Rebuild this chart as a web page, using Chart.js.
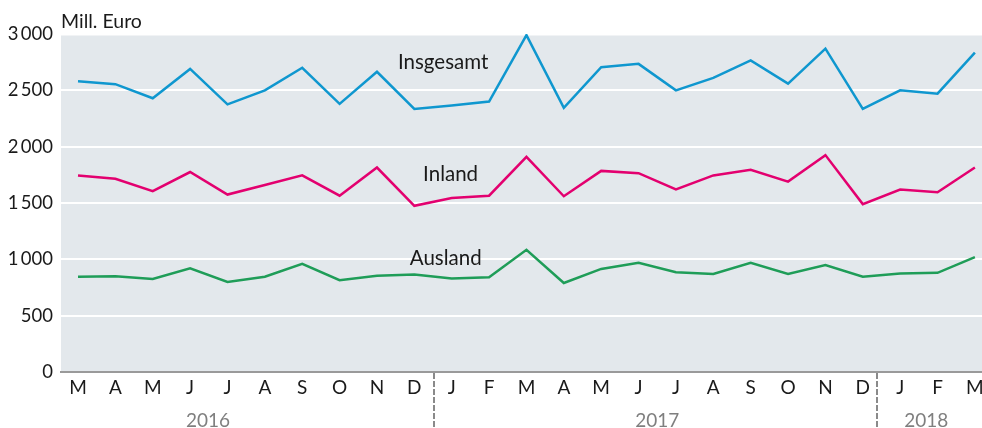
<!DOCTYPE html>
<html>
<head>
<meta charset="utf-8">
<script src="https://cdn.jsdelivr.net/npm/chart.js@4.4.1/dist/chart.umd.min.js"></script>
<style>
  html, body { margin: 0; padding: 0; background: #fff; }
  #wrap { width: 982px; height: 428px; position: relative; }
</style>
</head>
<body>
<div id="wrap"><canvas id="chart"></canvas></div>
<script>
// März 2016 bis März 2018
const months = ['M','A','M','J','J','A','S','O','N','D','J','F','M','A','M','J','J','A','S','O','N','D','J','F','M'];
const insgesamt = [2580, 2555, 2430, 2690, 2375, 2500, 2700, 2380, 2665, 2335, 2365, 2400, 2990, 2345, 2705, 2735, 2500, 2610, 2765, 2560, 2870, 2335, 2500, 2470, 2835];
const inland    = [1745, 1715, 1605, 1775, 1575, 1660, 1745, 1565, 1815, 1475, 1545, 1565, 1910, 1560, 1785, 1765, 1620, 1745, 1795, 1690, 1925, 1490, 1620, 1595, 1815];
const ausland   = [845, 850, 825, 920, 800, 845, 960, 815, 855, 865, 830, 840, 1085, 790, 915, 970, 885, 870, 970, 870, 950, 845, 875, 880, 1020];
const yTicks = [0, 500, 1000, 1500, 2000, 2500, 3000];
const years = ['2016', '2017', '2018'];
const yearPos = [3.48, 15.5, 22.7];
const yearBreaks = [9.53, 21.37];
const seriesNames = ['Insgesamt', 'Inland', 'Ausland'];
const nameX = [9.77, 9.97, 9.84];
const nameY = [2750, 1752, 1012];
const unitLabel = 'Mill. Euro';

const FONT = 'Lato, "Noto Sans", sans-serif';
const colors = ['#0f97cf', '#e3006f', '#1f9d58'];

function fmt(v) {
  if (v < 1000) return String(v);
  return Math.floor(v / 1000) + '\u2009' + String(v % 1000).padStart(3, '0');
}

const bgPlugin = {
  id: 'bg',
  beforeDraw(chart) {
    const { ctx, chartArea: a } = chart;
    ctx.save();
    ctx.fillStyle = '#e3e8ec';
    ctx.fillRect(a.left, a.top + 1.5, a.right - a.left, a.bottom - a.top - 1.5);
    ctx.restore();
  }
};

const textPlugin = {
  id: 'texts',
  afterDraw(chart) {
    const { ctx, chartArea: a } = chart;
    const x = chart.scales.x, y = chart.scales.y;
    ctx.save();
    // Einheit
    ctx.font = '19.5px ' + FONT;
    ctx.fillStyle = '#1a1a1a';
    ctx.textAlign = 'left';
    ctx.textBaseline = 'middle';
    ctx.fillText(unitLabel, 61, 22);
    // Reihennamen
    ctx.font = '20.5px ' + FONT;
    ctx.textAlign = 'center';
    seriesNames.forEach((n, i) => {
      ctx.fillText(n, x.getPixelForValue(nameX[i]), y.getPixelForValue(nameY[i]));
    });
    // Jahrestrenner
    ctx.strokeStyle = '#8a8a8a';
    ctx.lineWidth = 2;
    ctx.setLineDash([6, 2]);
    yearBreaks.forEach(b => {
      const px = Math.round(x.getPixelForValue(b));
      ctx.beginPath();
      ctx.moveTo(px, a.bottom + 1);
      ctx.lineTo(px, 428);
      ctx.stroke();
    });
    ctx.setLineDash([]);
    // Jahre
    ctx.font = '19px ' + FONT;
    ctx.fillStyle = '#7f7f7f';
    ctx.textBaseline = 'alphabetic';
    years.forEach((t, i) => ctx.fillText(t, x.getPixelForValue(yearPos[i]), 426.5));
    ctx.restore();
  }
};

const mk = (label, vals, i) => ({
  label,
  data: vals.map((v, k) => ({ x: k, y: v })),
  borderColor: colors[i],
  borderWidth: 2.5,
  pointRadius: 0,
  tension: 0,
  fill: false
});

new Chart(document.getElementById('chart'), {
  type: 'line',
  data: {
    datasets: [
      mk(seriesNames[0], insgesamt, 0),
      mk(seriesNames[1], inland, 1),
      mk(seriesNames[2], ausland, 2)
    ]
  },
  options: {
    responsive: true,
    maintainAspectRatio: false,
    animation: false,
    layout: { padding: { top: 34, right: 0, bottom: 0, left: 0 } },
    plugins: { legend: { display: false }, tooltip: { enabled: false } },
    scales: {
      x: {
        type: 'linear',
        min: -0.455,
        max: 24.19,
        grid: { display: false, drawTicks: false },
        border: { display: true, color: '#9a9a9a', width: 2 },
        afterBuildTicks: s => { s.ticks = months.map((m, i) => ({ value: i })); },
        afterFit: s => { s.height = 56; s.paddingLeft = 0; s.paddingRight = 0; },
        ticks: {
          autoSkip: false,
          maxRotation: 0,
          padding: 4,
          color: '#1a1a1a',
          font: { family: FONT, size: 19 },
          callback: v => months[v]
        }
      },
      y: {
        min: 0,
        max: 3000,
        grid: { color: '#ffffff', lineWidth: 2, drawTicks: false },
        border: { display: false },
        afterBuildTicks: s => { s.ticks = yTicks.map(v => ({ value: v })); },
        afterFit: s => { s.width = 61; },
        ticks: {
          padding: 8,
          color: '#1a1a1a',
          font: { family: FONT, size: 18.5 },
          callback: v => fmt(v)
        }
      }
    }
  },
  plugins: [bgPlugin, textPlugin]
});
</script>
</body>
</html>
